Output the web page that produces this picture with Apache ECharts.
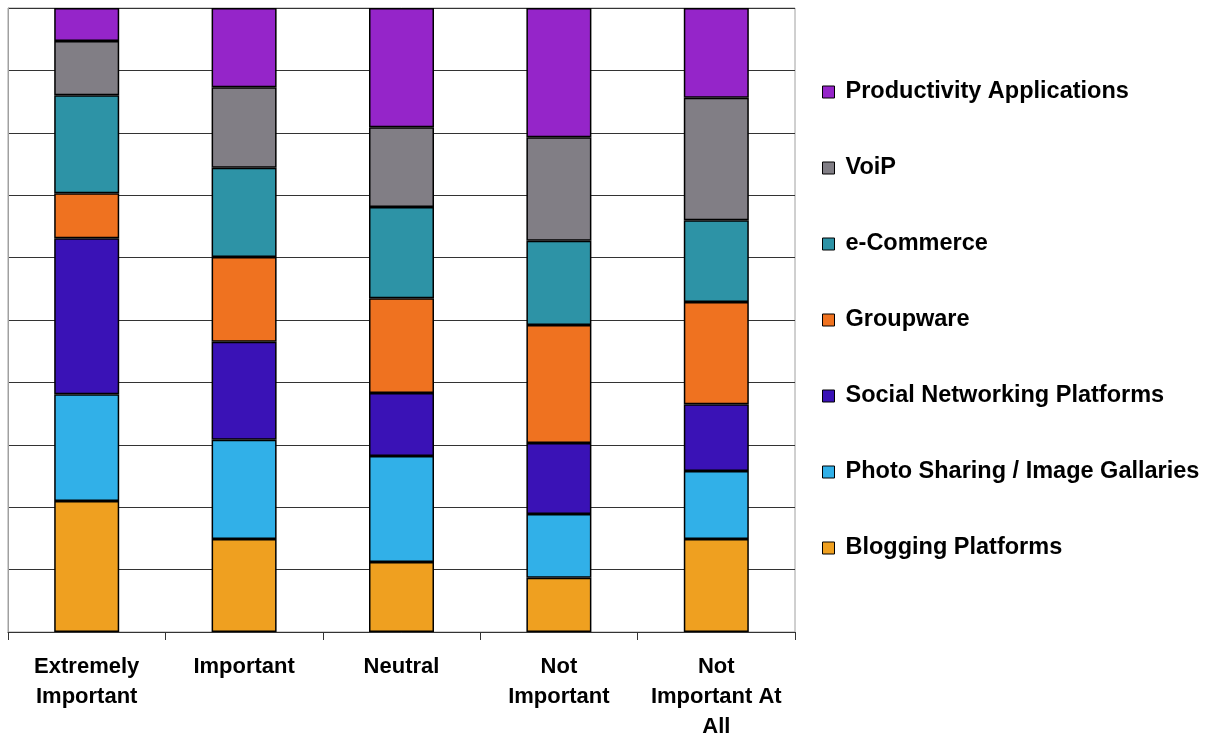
<!DOCTYPE html>
<html>
<head>
<meta charset="utf-8">
<script src="https://cdn.jsdelivr.net/npm/echarts@6/dist/echarts.min.js"></script>
<style>
  html, body { margin: 0; padding: 0; background: #fff; }
  #chart { width: 1222px; height: 735px; }
</style>
</head>
<body>
<div id="chart"></div>
<script>
// categories (x axis)
const categories = ['Extremely\nImportant', 'Important', 'Neutral', 'Not\nImportant', 'Not\nImportant At\nAll'];

// percent share per category, bottom to top
const blogging = [21.0, 14.9, 11.2, 8.7, 14.9];
const photoSharing = [17.1, 15.9, 17.0, 10.2, 10.9];
const socialNetworking = [25.0, 15.7, 10.1, 11.4, 10.7];
const groupware = [7.2, 13.6, 15.2, 18.9, 16.4];
const eCommerce = [15.7, 14.3, 14.6, 13.5, 13.1];
const voip = [8.7, 12.9, 12.8, 16.6, 19.6];
const productivity = [5.3, 12.7, 19.1, 20.7, 14.4];

const seriesNames = [
  'Blogging Platforms',
  'Photo Sharing / Image Gallaries',
  'Social Networking Platforms',
  'Groupware',
  'e-Commerce',
  'VoiP',
  'Productivity Applications',
];
const seriesData = [blogging, photoSharing, socialNetworking, groupware, eCommerce, voip, productivity];
const colors = ['#EFA020', '#31B0E8', '#3A12B6', '#EF7220', '#2D93A6', '#817E85', '#9525C9'];

const myChart = echarts.init(document.querySelector('#chart'));

const option = {
  animation: false,
  grid: {
    left: 8,
    top: 8,
    right: 427,
    bottom: 103,
    outerBoundsMode: 'none',
    containLabel: false,
    show: true,
    borderColor: '#a0a0a0',
    borderWidth: 1,
  },
  legend: {
    orient: 'vertical',
    left: 817,
    top: 75,
    icon: 'rect',
    itemWidth: 12,
    itemHeight: 12,
    itemGap: 52,
    data: seriesNames.slice().reverse(),
    itemStyle: { borderColor: '#000', borderWidth: 1 },
    textStyle: {
      fontFamily: 'Liberation Sans, Arial, sans-serif',
      fontWeight: 'bold',
      fontSize: 23.5,
      color: '#000',
      padding: [0, 0, 0, 6],
    },
  },
  xAxis: {
    type: 'category',
    data: categories,
    axisLine: { lineStyle: { color: '#333', width: 1 } },
    axisTick: { show: true, interval: 0, length: 8, lineStyle: { color: '#333' } },
    axisLabel: {
      interval: 0,
      margin: 20,
      fontFamily: 'Liberation Sans, Arial, sans-serif',
      fontWeight: 'bold',
      fontSize: 22,
      lineHeight: 30,
      color: '#000',
    },
  },
  yAxis: {
    type: 'value',
    min: 0,
    max: 100,
    interval: 10,
    axisLine: { show: true, lineStyle: { color: '#a0a0a0' } },
    axisTick: { show: false },
    axisLabel: { show: false },
    splitLine: { show: true, lineStyle: { color: '#333', width: 1 } },
  },
  series: seriesNames.map((name, i) => ({
    name: name,
    type: 'bar',
    stack: 'total',
    barWidth: 65,
    data: seriesData[i],
    itemStyle: {
      color: colors[i],
      borderColor: '#000',
      borderWidth: 1.5,
    },
  })),
};

option && myChart.setOption(option);
</script>
</body>
</html>
